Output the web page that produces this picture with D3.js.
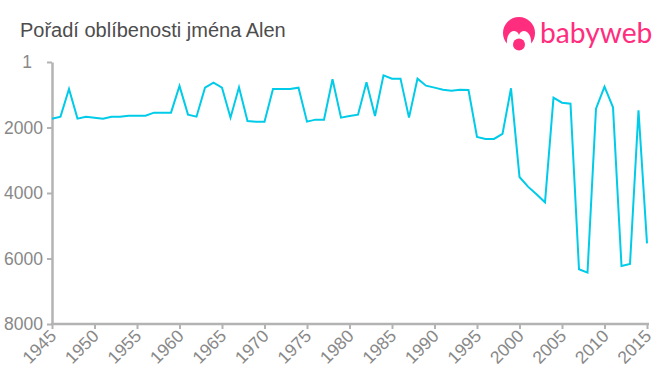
<!DOCTYPE html>
<html>
<head>
<meta charset="utf-8">
<script src="https://cdn.jsdelivr.net/npm/d3@7"></script>
<style>
  html, body { margin: 0; padding: 0; background: #fff; }
  svg { display: block; font-family: "Liberation Sans", Arial, sans-serif; }
</style>
</head>
<body>
<svg id="chart"></svg>
<script>
const years = d3.range(1945, 2016);
const ranks = [
  1731, 1670, 825, 1730, 1670, 1700, 1730, 1670, 1670, 1640,
  1640, 1640, 1547, 1547, 1547, 733, 1608, 1670, 784, 632,
  784, 1700, 773, 1802, 1822, 1822, 824, 824, 824, 784,
  1822, 1761, 1761, 529, 1700, 1650, 1610, 621, 1650, 407,
  509, 509, 1700, 509, 723, 784, 845, 875, 845, 855,
  2290, 2351, 2351, 2198, 804, 3511, 3807, 4040, 4285, 1090,
  1243, 1273, 6330, 6432, 1426, 753, 1385, 6229, 6168, 1477,
  5537
];
const yTicks = [1, 2000, 4000, 6000, 8000];
const xTicks = d3.range(1945, 2016, 5);
const titleText = "Pořadí oblíbenosti jména Alen";

const width = 660;
const height = 375;
const margin = { top: 62, right: 13, bottom: 51, left: 52 };

const svg = d3.select("#chart")
  .attr("width", width)
  .attr("height", height);

const x = d3.scaleLinear().domain([1945, 2015]).range([margin.left, width - margin.right]);
const y = d3.scaleLinear().domain([1, 8000]).range([margin.top, height - margin.bottom]);

svg.append("text")
  .attr("x", 20)
  .attr("y", 36.5)
  .attr("font-size", "20px")
  .attr("fill", "#4d4d4d")
  .text(titleText);

// axes
const yAxis = svg.append("g")
  .attr("transform", `translate(${margin.left}, 0)`)
  .call(d3.axisLeft(y).tickValues(yTicks).tickFormat(d3.format("d")).tickSize(5).tickSizeOuter(0));

// the "1" sits further left than the other labels in the original
yAxis.selectAll("text")
  .attr("x", d => d === 1 ? -20 : -9)
  .attr("font-size", "17.5px")
  .attr("font-family", "'Liberation Sans', Arial, sans-serif")
  .attr("fill", "#888");

const xAxis = svg.append("g")
  .attr("transform", `translate(0, ${height - margin.bottom})`)
  .call(d3.axisBottom(x).tickValues(xTicks).tickFormat(d3.format("d")).tickSize(5).tickSizeOuter(0));

xAxis.selectAll("text")
  .attr("font-size", "17.5px")
  .attr("font-family", "'Liberation Sans', Arial, sans-serif")
  .attr("fill", "#888")
  .attr("text-anchor", "end")
  .attr("dy", 0)
  .attr("x", 6)
  .attr("y", 16)
  .attr("transform", "rotate(-45 2 16)");

svg.selectAll(".domain")
  .attr("stroke", "#b3b3b3")
  .attr("stroke-width", 2.5);
svg.selectAll(".tick line")
  .attr("stroke", "#b3b3b3")
  .attr("stroke-width", 2);

// x axis runs a little past the last tick
xAxis.select(".domain").attr("d", `M${margin.left - 1},0H${width - 11}`);

// rank line
const line = d3.line()
  .x((d, i) => x(years[i]))
  .y(d => y(d));

svg.append("path")
  .datum(ranks)
  .attr("d", line)
  .attr("fill", "none")
  .attr("stroke", "#00cbe8")
  .attr("stroke-width", 2);

// logo
const logo = svg.append("g");

logo.append("circle").attr("cx", 519).attr("cy", 33).attr("r", 16).attr("fill", "#ff2d7e");
logo.append("path")
  .attr("fill", "#fff")
  .attr("d", "M507 45 C506 36 510 31 514 31 C516 31 518 32 519 35 C520 32 522 31 524 31 C528 31 532 36 531 45 L531 50 L507 50 Z");
logo.append("circle").attr("cx", 519).attr("cy", 44.5).attr("r", 6).attr("fill", "#ff2d7e");

logo.append("text")
  .attr("x", 540)
  .attr("y", 43)
  .attr("fill", "#ff2d7e")
  .attr("font-family", "Lato, sans-serif")
  .attr("font-size", "28.2px")
  .text("babyweb");
</script>
</body>
</html>
